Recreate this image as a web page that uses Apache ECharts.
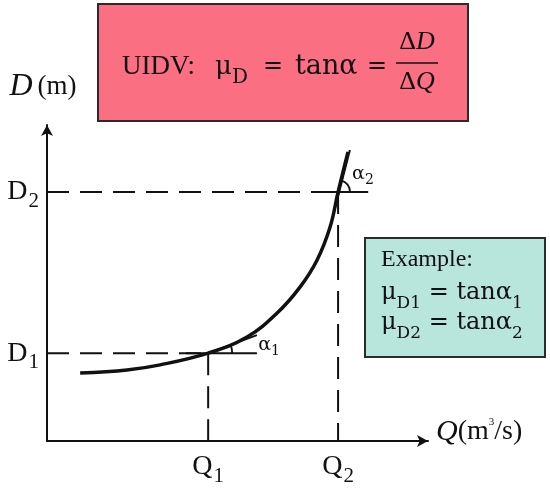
<!DOCTYPE html>
<html>
<head>
<meta charset="utf-8">
<script src="https://cdn.jsdelivr.net/npm/echarts@6/dist/echarts.min.js"></script>
<style>
html, body { margin: 0; padding: 0; background: #fff; }
#main { width: 550px; height: 491px; }
</style>
</head>
<body>
<div id="main"></div>
<script>
// rating curve D(Q) (arbitrary units, axes 0..10)
const curveQ = [0.87, 2.10, 2.97, 4.23, 5.25, 6.04, 6.64, 7.09, 7.43, 7.64, 7.90]
const curveD = [2.15, 2.25, 2.41, 2.78, 3.29, 4.05, 4.87, 5.73, 6.77, 7.88, 9.15]
// the two reading points
const q1 = 4.23, q2 = 7.64
const d1 = 2.78, d2 = 7.88
// tangents at the two points
const tan1Q = [4.23, 5.51], tan1D = [2.78, 3.35]
const tan2Q = [7.48, 7.95], tan2D = [6.99, 9.21]
// short solid horizontals the angles are measured from
const base1Q = [3.65, 5.51]
const base2Q = [6.98, 8.43]
// tick labels
const qTicks = [q1, q2], qTickLabels = ['1', '2']
const dTicks = [d1, d2], dTickLabels = ['1', '2']

const serif = "'Liberation Serif', 'DejaVu Serif', serif"
const wide = "'DejaVu Serif', serif"
const black = '#111'

function pts(xs, ys) {
  return xs.map((x, i) => [x, ys[i]])
}

function lineSeries(data, width, dashed) {
  return {
    type: 'line',
    data: data,
    symbol: 'none',
    silent: true,
    lineStyle: {
      color: black,
      width: width,
      type: dashed ? [22, 11] : 'solid',
    },
  }
}

let myChart = echarts.init(document.getElementById('main'))

const option = {
  animation: false,
  grid: { left: 47, right: 122, top: 125, bottom: 50 },
  xAxis: {
    type: 'value',
    min: 0,
    max: 10,
    splitLine: { show: false },
    axisTick: { show: false },
    axisLine: {
      symbol: ['none', 'arrow'],
      symbolSize: [9, 11],
      lineStyle: { color: black, width: 2 },
    },
    axisLabel: {
      customValues: qTicks,
      margin: 12,
      formatter: (v) => '{m|Q}{s|' + qTickLabels[qTicks.indexOf(v)] + '}',
      rich: {
        m: { fontFamily: serif, fontSize: 28, color: black },
        s: { fontFamily: serif, fontSize: 21, color: black, verticalAlign: 'bottom', padding: [0, 0, -6, 1] },
      },
    },
    name: '{i|Q}{n|(m}{sup|3}{n|/s)}',
    nameLocation: 'end',
    nameGap: 8,
    nameTextStyle: {
      align: 'left',
      padding: [0, 0, 18, 0],
      rich: {
        i: { fontFamily: serif, fontStyle: 'italic', fontSize: 30, color: black },
        n: { fontFamily: serif, fontSize: 28, color: black },
        sup: { fontFamily: serif, fontSize: 11, color: black, verticalAlign: 'top' },
      },
    },
  },
  yAxis: {
    type: 'value',
    min: 0,
    max: 10,
    splitLine: { show: false },
    axisTick: { show: false },
    axisLine: {
      symbol: ['none', 'arrow'],
      symbolSize: [9, 11],
      lineStyle: { color: black, width: 2 },
    },
    axisLabel: {
      customValues: dTicks,
      margin: 8,
      formatter: (v) => '{m|D}{s|' + dTickLabels[dTicks.indexOf(v)] + '}',
      rich: {
        m: { fontFamily: serif, fontSize: 28, color: black },
        s: { fontFamily: serif, fontSize: 21, color: black, verticalAlign: 'bottom', padding: [0, 0, -6, 1] },
      },
    },
    name: '{i|D}{n|(m)}',
    nameLocation: 'end',
    nameGap: 22,
    nameTextStyle: {
      align: 'center',
      padding: [0, 8, 0, 0],
      rich: {
        i: { fontFamily: serif, fontStyle: 'italic', fontSize: 32, color: black, padding: [0, 5, 0, 0] },
        n: { fontFamily: serif, fontSize: 27, color: black },
      },
    },
  },
  series: [
    lineSeries([[0, d1], [q1, d1]], 2, true),
    lineSeries([[0, d2], [q2, d2]], 2, true),
    lineSeries([[q1, d1], [q1, 0]], 2, true),
    lineSeries([[q2, d2], [q2, 0]], 2, true),
    lineSeries([[base1Q[0], d1], [base1Q[1], d1]], 2, false),
    lineSeries([[base2Q[0], d2], [base2Q[1], d2]], 2, false),
    lineSeries(pts(tan1Q, tan1D), 2, false),
    lineSeries(pts(tan2Q, tan2D), 2, false),
    Object.assign(lineSeries(pts(curveQ, curveD), 3.5, false), { smooth: 0.4 }),
  ],
  graphic: [
    // definition box
    {
      id: 'defBox', type: 'rect', z: 10,
      shape: { x: 98, y: 4, width: 370, height: 117 },
      style: { fill: '#fb6f83', stroke: '#2b2b2b', lineWidth: 2 },
    },
    { id: 't1', type: 'text', z: 11, x: 122, y: 67,
      style: { text: 'UIDV:', font: '27px ' + serif, fill: black, verticalAlign: 'middle' } },
    { id: 't2', type: 'text', z: 11, x: 215, y: 67,
      style: {
        text: '{m|μ}{s|D}', fill: black, verticalAlign: 'middle',
        rich: {
          m: { fontFamily: wide, fontSize: 26 },
          s: { fontFamily: wide, fontSize: 20, verticalAlign: 'bottom', padding: [0, 0, -8, 0] },
        },
      } },
    { id: 't3', type: 'text', z: 11, x: 263, y: 67,
      style: { text: '=', font: '24px ' + wide, fill: black, verticalAlign: 'middle' } },
    { id: 't4', type: 'text', z: 11, x: 295, y: 67,
      style: { text: 'tanα', font: '27px ' + wide, fill: black, verticalAlign: 'middle' } },
    { id: 't5', type: 'text', z: 11, x: 367, y: 67,
      style: { text: '=', font: '24px ' + wide, fill: black, verticalAlign: 'middle' } },
    { id: 't6', type: 'text', z: 11, x: 417, y: 42,
      style: {
        text: '{n|Δ}{i|D}', fill: black, align: 'center', verticalAlign: 'middle',
        rich: {
          n: { fontFamily: serif, fontSize: 26 },
          i: { fontFamily: serif, fontSize: 26, fontStyle: 'italic' },
        },
      } },
    { id: 't7', type: 'line', z: 11,
      shape: { x1: 396, y1: 63, x2: 438, y2: 63 },
      style: { stroke: black, lineWidth: 1.5 } },
    { id: 't8', type: 'text', z: 11, x: 417, y: 82,
      style: {
        text: '{n|Δ}{i|Q}', fill: black, align: 'center', verticalAlign: 'middle',
        rich: {
          n: { fontFamily: serif, fontSize: 26 },
          i: { fontFamily: serif, fontSize: 26, fontStyle: 'italic' },
        },
      } },
    // example box
    {
      id: 'exBox', type: 'rect', z: 10,
      shape: { x: 365, y: 238, width: 180, height: 119 },
      style: { fill: '#b8e5dc', stroke: '#2b2b2b', lineWidth: 2 },
    },
    { id: 'e1', type: 'text', z: 11, x: 381, y: 260,
      style: { text: 'Example:', font: '24px ' + serif, fill: black, verticalAlign: 'middle' } },
    { id: 'e2', type: 'text', z: 11, x: 381, y: 293,
      style: {
        text: '{m|μ}{s|D1}{m| = tanα}{s|1}', fill: black, verticalAlign: 'middle',
        rich: {
          m: { fontFamily: wide, fontSize: 24 },
          s: { fontFamily: wide, fontSize: 17, verticalAlign: 'bottom', padding: [0, 0, -7, 0] },
        },
      } },
    { id: 'e3', type: 'text', z: 11, x: 381, y: 323,
      style: {
        text: '{m|μ}{s|D2}{m| = tanα}{s|2}', fill: black, verticalAlign: 'middle',
        rich: {
          m: { fontFamily: wide, fontSize: 24 },
          s: { fontFamily: wide, fontSize: 17, verticalAlign: 'bottom', padding: [0, 0, -7, 0] },
        },
      } },
  ],
}

myChart.setOption(option)

// angle marks at the reading points, placed once the axes exist
function angleMark(id, q, d, tq, td, r, sub, lx, ly) {
  const c = myChart.convertToPixel({ gridIndex: 0 }, [q, d])
  const a = myChart.convertToPixel({ gridIndex: 0 }, [tq[0], td[0]])
  const b = myChart.convertToPixel({ gridIndex: 0 }, [tq[1], td[1]])
  const ang = Math.atan2(b[1] - a[1], b[0] - a[0])
  return [
    {
      id: id + 'arc', type: 'arc', z: 5,
      shape: { cx: c[0], cy: c[1], r: r, startAngle: ang, endAngle: 0, clockwise: true },
      style: { stroke: black, lineWidth: 1.8, fill: null },
    },
    {
      id: id + 'lab', type: 'text', z: 5, x: c[0] + lx, y: c[1] + ly,
      style: {
        text: '{m|α}{s|' + sub + '}', fill: black, verticalAlign: 'middle',
        rich: {
          m: { fontFamily: wide, fontSize: 19 },
          s: { fontFamily: wide, fontSize: 14, verticalAlign: 'bottom', padding: [0, 0, -4, 0] },
        },
      },
    },
  ]
}

myChart.setOption({
  graphic: []
    .concat(angleMark('a1', q1, d1, tan1Q, tan1D, 24, '1', 50, -8))
    .concat(angleMark('a2', q2, d2, tan2Q, tan2D, 12, '2', 14, -18)),
})
</script>
</body>
</html>
